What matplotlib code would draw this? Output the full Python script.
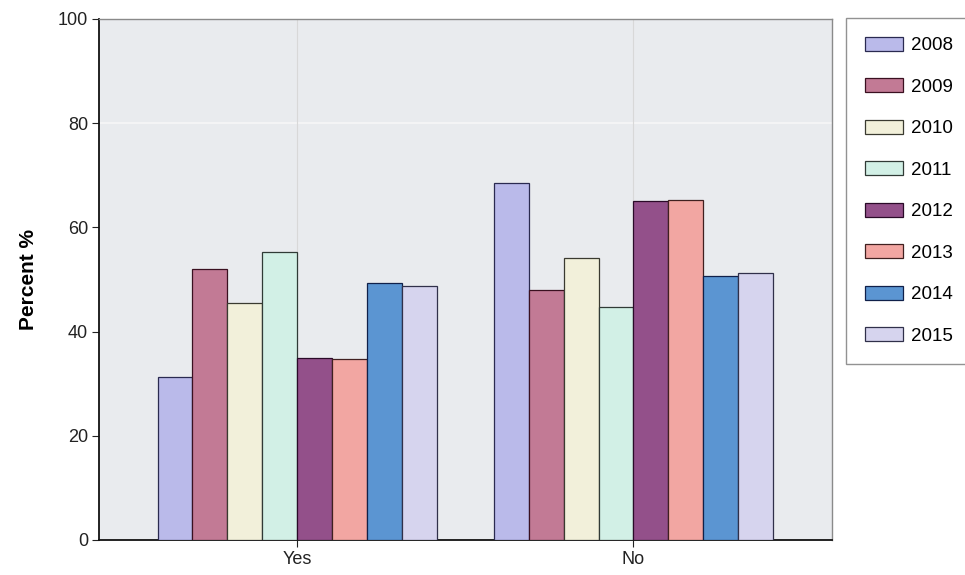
import numpy as np
import matplotlib.pyplot as plt
from matplotlib.patches import Patch

plt.rcParams['font.family'] = ['Liberation Sans', 'DejaVu Sans']

categories = ['Yes', 'No']
years = ['2008', '2009', '2010', '2011', '2012', '2013', '2014', '2015']
# percent per year, [Yes, No]
values = {
    '2008': [31.3, 68.6],
    '2009': [52.1, 47.9],
    '2010': [45.4, 54.2],
    '2011': [55.2, 44.8],
    '2012': [34.9, 65.1],
    '2013': [34.7, 65.3],
    '2014': [49.4, 50.6],
    '2015': [48.7, 51.3],
}
fills = ['#babaea', '#c27a95', '#f2f0da', '#d2f0e6', '#93508a', '#f2a6a2', '#5b95d2', '#d6d4ee']
edges = ['#2a2a50', '#3a1020', '#3a3a30', '#303a36', '#2a0a28', '#402020', '#10204a', '#30304a']

fig = plt.figure(figsize=(9.65, 5.75), dpi=100)
ax = fig.add_axes([0.1026, 0.0609, 0.7594, 0.9061])
ax.set_facecolor('#e9ebee')

x = np.arange(len(categories))
w = 0.104
for i, yr in enumerate(years):
    off = (i - 3.5)*w
    ax.bar(x + off, values[yr], w, color=fills[i], edgecolor=edges[i],
           linewidth=0.9, zorder=3)

# faint grid like the original
ax.axhline(80, color='#f7f7f7', lw=1.2, zorder=1)
for xc in x:
    ax.axvline(xc, color='#d8d8d8', lw=0.8, zorder=1)

ax.set_xlim(-0.59, 1.59)
ax.set_ylim(0, 100)
ax.set_yticks([0, 20, 40, 60, 80, 100])
ax.set_xticks(x)
ax.set_xticklabels(categories)
ax.tick_params(axis='both', labelsize=13, direction='out', length=5,
               colors='#222222', pad=3)
ax.set_ylabel('Percent %', fontsize=15, fontweight='bold', labelpad=14)

for s in ['left', 'bottom']:
    ax.spines[s].set_color('#111111')
    ax.spines[s].set_linewidth(1.3)
for s in ['top', 'right']:
    ax.spines[s].set_color('#8a8a8a')
    ax.spines[s].set_linewidth(1.0)

handles = [Patch(facecolor=fills[i], edgecolor=edges[i], linewidth=0.9)
           for i in range(len(years))]
leg = fig.legend(handles, years, loc='upper left',
                 bbox_to_anchor=(0.877, 0.969), bbox_transform=fig.transFigure,
                 borderaxespad=0, fontsize=13.5, frameon=True, fancybox=False,
                 labelspacing=1.27, handlelength=2.0, handleheight=0.8,
                 handletextpad=0.45, borderpad=1.0)
leg.get_frame().set_edgecolor('#777777')
leg.get_frame().set_linewidth(1.0)

plt.savefig('out.png', dpi=100)
